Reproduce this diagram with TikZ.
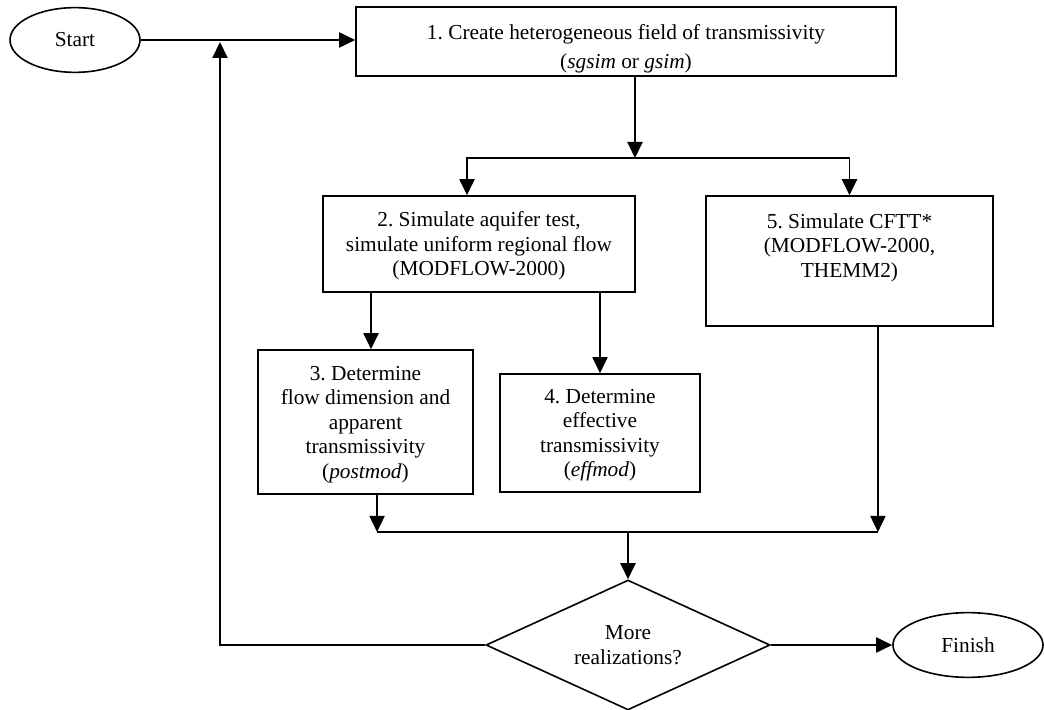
\documentclass[tikz,border=0pt]{standalone}
\usepackage{fontspec}
\setmainfont{Liberation Serif}
\usetikzlibrary{arrows.meta,shapes.geometric}
\frenchspacing
\newcommand{\hstrut}{\rule{0pt}{10.7pt}}
\newcommand{\dstrut}{\rule[-2.6pt]{0pt}{0pt}}

\begin{document}
\begin{tikzpicture}[x=0.5625pt,y=-0.5625pt,
  box/.style={draw,line width=0.9pt,align=center,inner sep=3pt,font=\fontsize{12}{13.8}\selectfont},
  term/.style={ellipse,draw,line width=0.9pt,inner sep=0pt,minimum width=#1,minimum height=36.4pt,font=\fontsize{12}{13.8}\selectfont},
  decision/.style={diamond,draw,line width=0.9pt,aspect=2.18,inner sep=0pt,minimum width=159.8pt,minimum height=73.1pt,align=center,font=\fontsize{12}{13.8}\selectfont},
  line/.style={line width=0.9pt},
  arrow/.style={-{Triangle[length=9pt,width=8.5pt]},line width=0.9pt}
]
\useasboundingbox (0,0) rectangle (1044,710);
\node[term=73.1pt] (start) at (75,40) {Start};
\node[box,inner xsep=4pt,inner ysep=0pt] (create) at (626,41.5) {\parbox[c][38.8pt][t]{295.8pt}{\centering\vspace*{7.35pt}\hstrut 1. Create heterogeneous field of transmissivity\\[3pt](\textit{sgsim} or \textit{gsim})}};
\node[box,minimum width=175.5pt,minimum height=54pt] (aquifer) at (479,244) {\hstrut 2. Simulate aquifer test,\\simulate uniform regional flow\\(MODFLOW-2000)\dstrut};
\node[box,inner xsep=4pt,inner ysep=0pt] (cftt) at (849.5,261) {\parbox[c][73.1pt][t]{153.4pt}{\centering\vspace*{7.5pt}\hstrut 5. Simulate CFTT*\\(MODFLOW-2000,\\THEMM2)}};
\node[box,minimum width=120.9pt,minimum height=81pt] (apparent) at (365.5,422) {\hstrut 3. Determine\\flow dimension and\\apparent\\transmissivity\\(\textit{postmod})\dstrut};
\node[box,minimum width=112.5pt,minimum height=66.4pt] (effective) at (600,433) {\hstrut 4. Determine\\effective\\transmissivity\\(\textit{effmod})\dstrut};
\node[decision] (more) at (628,645) {More\\realizations?};
\node[term=84.4pt] (finish) at (968,645) {Finish};

% junction points
\coordinate (split) at (635,158);
\coordinate (merge) at (628,532);
\coordinate (back) at (220,42);
\coordinate (in2) at ([xshift=-6.75pt]aquifer.north);
\coordinate (in3) at ([xshift=3.1pt]apparent.north);
\coordinate (out3) at ([xshift=6.5pt]apparent.south);
\coordinate (out5) at ([xshift=16pt]cftt.south);

\draw[arrow] (start.east) -- (start.east -| create.west);
\draw[arrow] (create.south -| split) -- (split);
\draw[arrow] (split) -| (in2);
\draw[arrow] (split) -| (cftt.north);
\draw[arrow] (in3 |- aquifer.south) -- (in3);
\draw[arrow] (effective.north |- aquifer.south) -- (effective.north);
\draw[arrow] (out3) -- (out3 |- merge);
\draw[arrow] (out5) -- (out5 |- merge);
\draw[line] (out3 |- merge) -- (out5 |- merge);
\draw[arrow] (merge) -- (more.north);
\draw[arrow] (more.west) -| (back);
\draw[arrow] (more.east) -- (finish.west);
\end{tikzpicture}
\end{document}
